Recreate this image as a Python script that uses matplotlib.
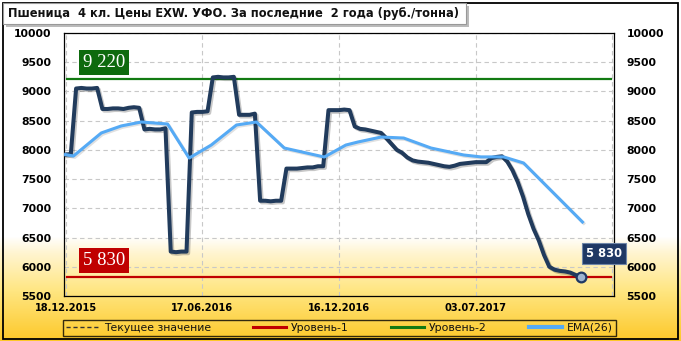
import numpy as np
import matplotlib
matplotlib.use("Agg")
import matplotlib.pyplot as plt
import matplotlib.patheffects as pe
from matplotlib.patches import Rectangle
from matplotlib.lines import Line2D

# ---------------- data ----------------
title = "Пшеница  4 кл. Цены EXW. УФО. За последние  2 года (руб./тонна)"
price = [7920, 7930, 9050, 9060, 9050, 9050, 9060, 8700, 8700, 8710,
         8710, 8700, 8720, 8730, 8720, 8350, 8360, 8350, 8350, 8370,
         6260, 6250, 6260, 6260, 8640, 8650, 8650, 8660, 9240, 9250,
         9240, 9240, 9250, 8600, 8600, 8600, 8620, 7130, 7130, 7120,
         7130, 7130, 7680, 7680, 7680, 7690, 7700, 7700, 7720, 7720,
         8680, 8680, 8680, 8690, 8680, 8400, 8360, 8350, 8330, 8310,
         8290, 8200, 8100, 8000, 7950, 7870, 7820, 7800, 7790, 7780,
         7760, 7740, 7720, 7710, 7730, 7760, 7770, 7780, 7790, 7790,
         7790, 7860, 7880, 7890, 7800, 7650, 7450, 7200, 6900, 6650,
         6450, 6200, 6000, 5950, 5930, 5920, 5900, 5860, 5830]
ema_weeks = [0, 1.5, 6.8, 10.6, 14.4, 19.4, 23.5, 27.7, 32.5, 36.3, 41.6,
             49.2, 53.3, 55.6, 60, 64.3, 69.5, 75.7, 79, 83.3, 87.1, 90.9,
             94.7, 98.3]
ema_values = [7920, 7895, 8290, 8410, 8477, 8443, 7860, 8083, 8426, 8477,
              8032, 7878, 8083, 8135, 8220, 8203, 8032, 7913, 7880, 7880,
              7776, 7433, 7091, 6766]
level1 = 5830
level2 = 9220
current = 5830
tick_weeks = [0, 26, 52, 78]
tick_labels = ["18.12.2015", "17.06.2016", "16.12.2016", "03.07.2017"]
legend_labels = ["Текущее значение", "Уровень-1", "Уровень-2", "EMA(26)"]
yticks = list(range(5500, 10001, 500))

# ---------------- figure ----------------
W, H = 681, 341
fig = plt.figure(figsize=(W / 100, H / 100), dpi=100)

# background gradient (white -> yellow at bottom)
bg = fig.add_axes([0, 0, 1, 1], zorder=-10)
bg.set_axis_off()
ypix = np.arange(H)
stops_y = [0, 236, 252, 290, 341]
stops_c = np.array([[255, 255, 255], [255, 255, 255], [255, 245, 210],
                    [255, 230, 130], [253, 200, 40]]) / 255.0
grad = np.stack([np.interp(ypix, stops_y, stops_c[:, k]) for k in range(3)], axis=1)
img = np.repeat(grad[:, None, :], 4, axis=1)
bg.imshow(img, aspect="auto", extent=[0, 1, 0, 1], origin="upper")
bg.set_xlim(0, 1)
bg.set_ylim(0, 1)
# outer black frame
bg.add_patch(Rectangle((2.5 / W, 2.5 / H), 1 - 5.5 / W, 1 - 5 / H, fill=False,
                       ec="black", lw=1.3, transform=bg.transAxes))

# main axes
L, R, T, B = 64, 614, 33, 296
ax = fig.add_axes([L / W, 1 - B / H, (R - L) / W, (B - T) / H])
ax.set_facecolor("none")

x = np.arange(len(price))
ax.set_xlim(-0.3, 104.3)
ax.set_ylim(5500, 10000)

ax.set_yticks(yticks)
ax.set_xticks(tick_weeks + [104])
ax.set_xticklabels(tick_labels + [""])
ax.grid(True, ls=(0, (4, 3)), color="#C8C8C8", lw=0.8)
ax.tick_params(axis="both", length=0)
ax.tick_params(axis="y", pad=9, labelright=True, labelleft=True, labelsize=7.8)
ax.tick_params(axis="x", pad=5, labelsize=7.1)
for lab in ax.get_yticklabels() + ax.get_xticklabels():
    lab.set_fontweight("bold")
for s in ax.spines.values():
    s.set_color("black")
    s.set_linewidth(0.9)

# levels
ax.axhline(level1, xmin=0.005, xmax=0.995, color="#C00000", lw=1.6, zorder=3)
ax.axhline(level2, xmin=0.005, xmax=0.995, color="#127A12", lw=1.6, zorder=3)

# price + EMA
ax.plot(x, price, color="#213B5C", lw=2.9, solid_joinstyle="round", zorder=5,
        path_effects=[pe.SimpleLineShadow(offset=(1.2, -1.2), alpha=0.22, shadow_color="black"),
                      pe.Normal()])
ax.plot(ema_weeks, ema_values, color="#55AAF5", lw=2.2, zorder=6,
        path_effects=[pe.SimpleLineShadow(offset=(1, -1), alpha=0.12, shadow_color="black"),
                      pe.Normal()])
ax.plot([x[-1]], [price[-1]], "o", ms=7, mfc="#9DB4D0", mec="#1F3864", mew=1.6, zorder=7)

def fmt(v):
    return f"{v:,.0f}".replace(",", " ")

# level labels
for val, col in [(level2, "#0E6A0E"), (level1, "#C00000")]:
    ax.annotate(fmt(val), xy=(2.5, val), xytext=(3, 5.5), textcoords="offset points",
                ha="left", va="bottom", color="white", fontsize=13.5,
                family="Liberation Serif", zorder=8,
                bbox=dict(boxstyle="square,pad=0.22", fc=col, ec="none"))
# current value label
ax.annotate(fmt(current), xy=(x[-1], current), xytext=(4, 12), textcoords="offset points",
            ha="left", va="bottom", color="white", fontsize=8.3, fontweight="bold",
            zorder=9, annotation_clip=False,
            bbox=dict(boxstyle="square,pad=0.35", fc="#1F3864", ec="#6F86A8", lw=0.8))

# title box
tx0, ty0, tx1, ty1 = 3, 3, 466, 24
bg.add_patch(Rectangle(((tx0 + 3) / W, 1 - (ty1 + 3) / H), (tx1 - tx0) / W, (ty1 - ty0) / H,
                       fc="#BBBBBB", ec="none", transform=bg.transAxes, zorder=3))
bg.add_patch(Rectangle((tx0 / W, 1 - ty1 / H), (tx1 - tx0) / W, (ty1 - ty0) / H,
                       fc="white", ec="#999999", lw=0.8, transform=bg.transAxes, zorder=4))
fig.text(8 / W, 1 - 13.5 / H, title, ha="left", va="center", fontsize=8.3,
         fontweight="bold", color="#111111", zorder=10)

# legend
handles = [Line2D([], [], color="#333333", ls=(0, (3, 2)), lw=1.0),
           Line2D([], [], color="#C00000", lw=2.2),
           Line2D([], [], color="#127A12", lw=2.2),
           Line2D([], [], color="#55AAF5", lw=3.0)]
leg = fig.legend(handles, legend_labels, ncol=4, loc="center",
                 bbox_to_anchor=((63 + 616) / 2 / W, 1 - 328 / H),
                 frameon=True, fontsize=7.8, handlelength=3.0, handletextpad=0.5,
                 columnspacing=3.9, borderpad=0.25, borderaxespad=0, fancybox=False)
leg.get_frame().set_edgecolor("black")
leg.get_frame().set_facecolor("none")
leg.get_frame().set_linewidth(1.0)
for t in leg.get_texts():
    t.set_color("#111111")

fig.savefig("out.png", dpi=100)
